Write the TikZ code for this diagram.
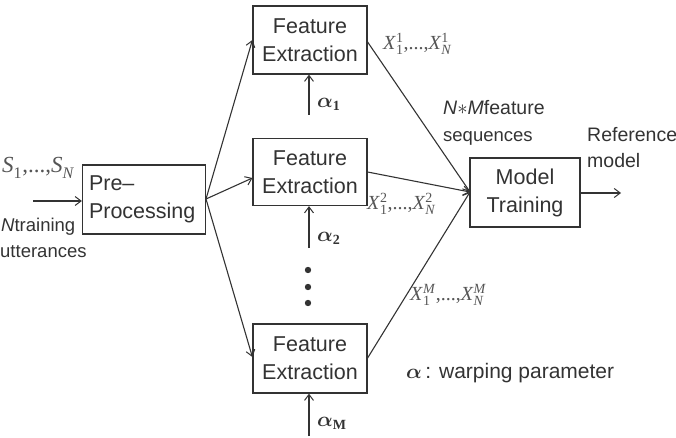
\documentclass[tikz,border=0pt]{standalone}
\usepackage{amsmath}
\usepackage{fontspec}
\setmainfont{Liberation Sans}
\newfontfamily\serifx{Liberation Serif}
\usetikzlibrary{arrows.meta}
\definecolor{ink}{HTML}{333333}
\definecolor{lbl}{HTML}{555555}
\newcommand\vsq[3]{$\text{\textit{#1}}_{\text{#2}}^{\text{#3}}$}
\newcommand\alsub[1]{$\boldsymbol{\alpha}_{\text{\serifx\bfseries #1}}$}
\tikzset{
  box/.style={draw=ink, line width=1.2pt, fill=white, inner sep=0pt, text=ink,
    font=\fontsize{21.5}{28}\selectfont, align=center},
  conn/.style={draw=ink, line width=1.1pt, -{Straight Barb[length=6pt,width=9pt,line width=1pt]}},
  txt/.style={text=ink, font=\fontsize{18.5}{20}\selectfont, inner sep=0pt},
  xl/.style={text=lbl, font=\serifx\fontsize{20}{22}\selectfont, inner sep=0pt},
  al/.style={text=ink, font=\serifx\bfseries\fontsize{20}{22}\selectfont, inner sep=0pt},
}
\begin{document}
\begin{tikzpicture}[x=1pt,y=-1pt]
\useasboundingbox (0,0) rectangle (676,438);
% boxes
\node[box, minimum width=123pt, minimum height=69pt, align=left, text width=110pt] (pre) at (144,199.5) {Pre--\\Processing};
\node[box, minimum width=114pt, minimum height=68pt] (fe1) at (310,40) {Feature\\Extraction};
\node[box, minimum width=114pt, minimum height=67pt] (fe2) at (310,172) {Feature\\Extraction};
\node[box, minimum width=114pt, minimum height=69pt] (fe3) at (310,358.5) {Feature\\Extraction};
\node[box, minimum width=110pt, minimum height=69pt] (mt) at (525,192.5) {Model\\Training};
% input
\coordinate (in) at (33,201);
\draw[conn] (in) -- (pre.west |- in);
\node[xl, anchor=west, font=\serifx\fontsize{23}{24}\selectfont] (s) at (2,168) {\vsq{S}{1}{},...,\vsq{S}{\textit{N}}{}};
\node[txt, anchor=west] (nt) at (1,227) {\textit{N}training};
\node[txt, anchor=west] (ut) at (0,252) {utterances};
% pre -> FE
\coordinate (po) at (206,199);
\draw[conn] (po) -- (fe1.west |- 0,40);
\draw[conn] (po) -- (fe2.west |- 0,178);
\draw[conn] (po) -- (fe3.west |- 0,357);
% alphas
\coordinate (a1) at (309,115);
\coordinate (a2) at (309,248);
\coordinate (a3) at (309,436);
\draw[conn] (a1) -- (fe1.south -| a1);
\draw[conn] (a2) -- (fe2.south -| a2);
\draw[conn] (a3) -- (fe3.south -| a3);
\node[al, anchor=west] (l1) at (317,104) {\alsub{1}};
\node[al, anchor=west] (l2) at (317,238) {\alsub{2}};
\node[al, anchor=west] (l3) at (317,423) {\alsub{M}};
% dots
\fill[ink] (308,270) circle (3.2pt) (308,287) circle (3.2pt) (308,303) circle (3.2pt);
% FE -> MT
\coordinate (mi) at (470,192);
\draw[conn] (fe1.east |- 0,42) -- (mi);
\draw[conn] (fe2.east |- 0,172) -- (mi);
\draw[conn] (fe3.east |- 0,358) -- (mi);
% output
\coordinate (out) at (621,193);
\draw[conn] (mt.east |- out) -- (out);
% labels
\node[xl, anchor=west] (x1) at (383,44) {\vsq{X}{1}{1},...,\vsq{X}{\textit{N}}{1}};
\node[xl, anchor=west] (x2) at (367,204) {\vsq{X}{1}{2},...,\vsq{X}{\textit{N}}{2}};
\node[xl, anchor=west] (x3) at (410,295) {\vsq{X}{1}{\textit{M}},...,\vsq{X}{\textit{N}}{\textit{M}}};
\node[txt, anchor=west, font=\fontsize{19.5}{21}\selectfont] (nm) at (443,108) {\textit{N}$*$\textit{M}feature};
\node[txt, anchor=west] (sq) at (443,138) {sequences};
\node[txt, anchor=west, font=\fontsize{19.5}{21}\selectfont] (rf) at (587,135) {Reference};
\node[txt, anchor=west, font=\fontsize{19.5}{21}\selectfont] (md) at (587,161) {model};
\node[txt, anchor=west, font=\fontsize{21}{22}\selectfont] (wp) at (406,373) {{\serifx\bfseries\fontsize{20}{22}\selectfont$\boldsymbol{\alpha}$}\,: warping parameter};
\end{tikzpicture}
\end{document}
